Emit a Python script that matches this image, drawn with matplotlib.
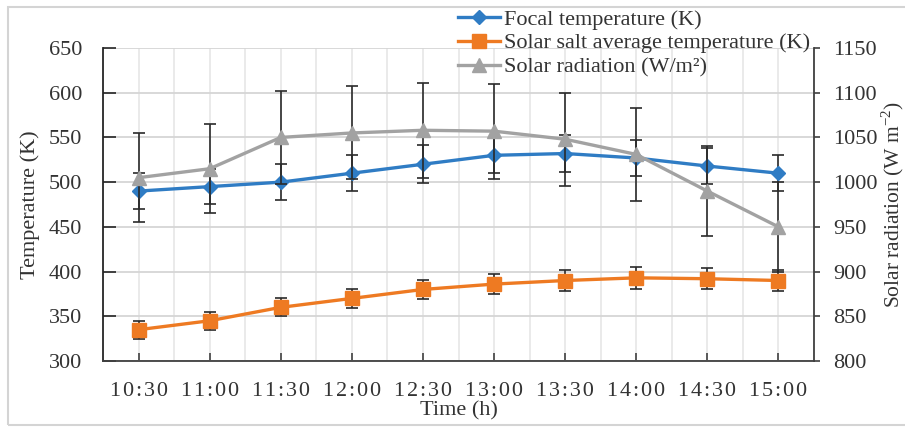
import numpy as np
import matplotlib
matplotlib.use("Agg")
import matplotlib.pyplot as plt
from matplotlib.ticker import MultipleLocator
from matplotlib.patches import Rectangle

plt.rcParams['font.family'] = ['Liberation Serif', 'DejaVu Serif']
plt.rcParams['mathtext.fontset'] = 'custom'
plt.rcParams['mathtext.rm'] = 'Liberation Serif'

# Measurements over the day
times = ["10:30", "11:00", "11:30", "12:00", "12:30",
         "13:00", "13:30", "14:00", "14:30", "15:00"]
focal_temp = [490, 495, 500, 510, 520, 530, 532, 527, 518, 510]
focal_err = [20, 20, 20, 20, 21, 20, 21, 20, 20, 20]
salt_temp = [335, 345, 360, 370, 380, 386, 390, 393, 392, 390]
salt_err = [10, 10, 10, 11, 11, 11, 12, 12, 12, 12]
radiation = [1005, 1015, 1050, 1055, 1058, 1057, 1048, 1031, 990, 950]
radiation_err = [50, 50, 52, 52, 53, 53, 52, 52, 50, 50]

blue = '#2f7cc4'
orange = '#ee7a22'
gray = '#a2a2a2'
bar_col = '#2a2a2a'
text_col = '#333333'

x = np.arange(len(times))

fig = plt.figure(figsize=(9.05, 4.29), dpi=100)
ax = fig.add_axes([103/905, 1-361/429, (814-103)/905, (361-48)/429])
ax2 = ax.twinx()

# outer border of the chart area
fig.patches.append(Rectangle((8/905, 4/429), 1.0, 418/429, transform=fig.transFigure,
                             fill=False, edgecolor='#d4d4d4', lw=1.5))

eb = dict(fmt='none', ecolor=bar_col, elinewidth=1.2, capsize=4, capthick=1.2, zorder=2)
ax.errorbar(x, focal_temp, yerr=focal_err, **eb)
ax.errorbar(x, salt_temp, yerr=salt_err, **eb)
l1, = ax.plot(x, focal_temp, '-D', color=blue, lw=2.4, ms=7.5, zorder=3,
              label='Focal temperature (K)')
l2, = ax.plot(x, salt_temp, '-s', color=orange, lw=2.4, ms=9.5, zorder=3,
              label='Solar salt average temperature (K)')
ax2.errorbar(x, radiation, yerr=radiation_err, **eb)
l3, = ax2.plot(x, radiation, '-^', color=gray, lw=2.4, ms=10, zorder=3,
               label='Solar radiation (W/m²)')

ax.set_xlim(-0.5, len(times) - 0.5)
ax.set_ylim(300, 650)
ax2.set_ylim(800, 1150)
ax.set_yticks(np.arange(300, 651, 50))
ax2.set_yticks(np.arange(800, 1151, 50))
ax.set_xticks(x)
ax.set_xticklabels(['\u200a'.join(t) for t in times])
ax.xaxis.set_minor_locator(MultipleLocator(0.5))

ax.grid(axis='y', color='#d6d6d6', lw=1.3)
ax.grid(axis='x', which='both', color='#e8e8e8', lw=1.3)
ax.set_axisbelow(True)

for s in ['top', 'right']:
    ax.spines[s].set_visible(False)
for s in ['top', 'left', 'bottom']:
    ax2.spines[s].set_visible(False)
ax.spines['left'].set_color('#262626')
ax.spines['bottom'].set_color('#404040')
ax2.spines['right'].set_color('#404040')
for sp in [ax.spines['left'], ax.spines['bottom'], ax2.spines['right']]:
    sp.set_linewidth(1.3)

ax.tick_params(axis='y', direction='in', length=9, width=1.2, color='#262626',
               labelsize=16, labelcolor=text_col, pad=15)
ax.tick_params(axis='x', which='major', direction='in', length=6, width=1.2,
               color='#404040', labelsize=16, labelcolor=text_col, pad=15)
ax.tick_params(axis='x', which='minor', length=0)
ax2.tick_params(axis='y', direction='out', length=4, width=1.2, color='#404040',
                labelsize=16, labelcolor=text_col, pad=10)

ax.set_xlabel('Time (h)', fontsize=16, color=text_col, labelpad=0)
ax.set_ylabel('Temperature (K)', fontsize=16, color=text_col, labelpad=6)
ax2.set_ylabel('Solar radiation (W m$^{-2}$)', fontsize=15.5, color=text_col, labelpad=1)

fig.legend(handles=[l1, l2, l3], loc='upper left',
           bbox_to_anchor=(458/905, 1 - 9/429), frameon=False, fontsize=16,
           handlelength=1.9, handletextpad=0.15, labelspacing=0.15,
           borderpad=0, borderaxespad=0, labelcolor=text_col)

fig.savefig('out.png', dpi=100)
